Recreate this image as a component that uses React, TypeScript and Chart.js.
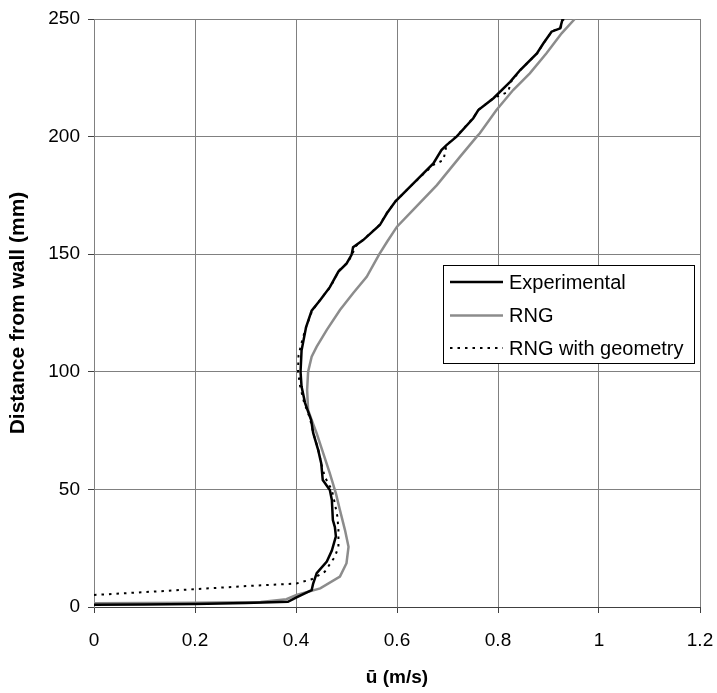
import React, { useEffect, useRef } from 'react';
import { Chart, registerables } from 'chart.js';

Chart.register(...registerables);

// ---- data (u in m/s, y = distance from wall in mm) ----
const expU = [0.0, 0.1, 0.2, 0.3, 0.384, 0.4, 0.431, 0.434, 0.441, 0.461, 0.471, 0.479, 0.477, 0.473, 0.471, 0.467, 0.453, 0.45, 0.444, 0.434, 0.43, 0.418, 0.411, 0.409, 0.411, 0.415, 0.42, 0.431, 0.448, 0.467, 0.484, 0.5, 0.51, 0.513, 0.533, 0.566, 0.58, 0.597, 0.632, 0.672, 0.688, 0.698, 0.718, 0.751, 0.761, 0.791, 0.824, 0.844, 0.877, 0.89, 0.906, 0.923, 0.928];
const expY = [1.0, 1.1, 1.3, 1.7, 2.2, 4.0, 7.2, 10, 14.4, 19.3, 24, 30, 34, 37, 45.5, 49.7, 54, 61, 66.7, 74, 79.5, 86.7, 93.7, 100, 109, 113.5, 119, 126, 130.5, 136, 142.6, 146, 149.7, 153, 156, 162.4, 167.4, 172.5, 180, 188.6, 194.3, 196.4, 200, 207.8, 211.3, 216.3, 223.3, 228.3, 235.4, 239.7, 244.6, 246, 250];

const rngU = [0.0, 0.2, 0.33, 0.381, 0.401, 0.448, 0.487, 0.5, 0.504, 0.497, 0.487, 0.479, 0.467, 0.454, 0.441, 0.431, 0.424, 0.422, 0.424, 0.431, 0.441, 0.461, 0.487, 0.513, 0.54, 0.565, 0.581, 0.6, 0.632, 0.679, 0.725, 0.758, 0.764, 0.797, 0.83, 0.863, 0.896, 0.926, 0.952];
const rngY = [1.6, 1.8, 2.1, 3.3, 5.1, 7.9, 12.9, 18.6, 25.6, 32.7, 41.2, 48.3, 56.8, 65.3, 73.8, 79.5, 83.7, 92.3, 100, 106.4, 110.7, 117.8, 126.3, 133.4, 140.4, 150, 155.5, 161.7, 168.8, 179.4, 191.5, 200, 201.4, 211.3, 219.8, 226.9, 235.4, 243.9, 250];

const geoU = [0.0, 0.17, 0.302, 0.401, 0.431, 0.457, 0.477, 0.484, 0.484, 0.482, 0.477, 0.471, 0.457, 0.45, 0.444, 0.434, 0.428, 0.416, 0.408, 0.404, 0.405, 0.413, 0.42, 0.432, 0.449, 0.468, 0.485, 0.502, 0.512, 0.516, 0.535, 0.566, 0.58, 0.597, 0.633, 0.672, 0.692, 0.698, 0.718, 0.751, 0.762, 0.792, 0.82, 0.826, 0.845, 0.878, 0.891, 0.907, 0.924, 0.93];
const geoY = [5.1, 7.2, 8.9, 10, 11.8, 15, 21.4, 25.6, 32.7, 38.4, 44, 49.7, 55.4, 61, 67, 74, 80, 87, 94, 100, 107, 114, 119, 126, 131, 136, 143, 146.5, 150, 153, 156.5, 162.6, 167.6, 172.5, 180.2, 188, 190, 196.4, 200.2, 208, 211.5, 216.5, 219, 223.4, 228.5, 235.5, 240, 244.8, 246.3, 250];

const seriesLabels = ['Experimental', 'RNG', 'RNG with geometry'];
const xTickLabels = ['0', '0.2', '0.4', '0.6', '0.8', '1', '1.2'];
const yTickLabels = ['0', '50', '100', '150', '200', '250'];
const xMin = 0, xMax = 1.2, xStep = 0.2;
const yMin = 0, yMax = 250, yStep = 50;
const xTitle = 'ū (m/s)';
const yTitle = 'Distance from wall (mm)';

const FONT = '"Liberation Sans", Arial, sans-serif';

const toPts = (us: number[], ys: number[]) => us.map((u, i) => ({ x: u, y: ys[i] }));

const legendPlugin = {
  id: 'boxLegend',
  afterDraw(chart: any) {
    const ctx = chart.ctx;
    const bx = 443, by = 265, bw = 251, bh = 98;
    ctx.save();
    ctx.fillStyle = '#ffffff';
    ctx.fillRect(bx, by, bw, bh);
    ctx.strokeStyle = '#000000';
    ctx.lineWidth = 1;
    ctx.strokeRect(bx + 0.5, by + 0.5, bw, bh);
    const rows = [282, 315.5, 348];
    chart.data.datasets.forEach((ds: any, i: number) => {
      const y = rows[i];
      ctx.beginPath();
      ctx.strokeStyle = ds.borderColor;
      ctx.lineWidth = ds.borderWidth;
      ctx.setLineDash(ds.borderDash || []);
      ctx.moveTo(450, y);
      ctx.lineTo(503, y);
      ctx.stroke();
      ctx.setLineDash([]);
      ctx.fillStyle = '#000';
      ctx.font = `20px ${FONT}`;
      ctx.textBaseline = 'middle';
      ctx.textAlign = 'left';
      ctx.fillText(ds.label, 509, y + 1);
    });
    ctx.restore();
  },
};

export default function App() {
  const ref = useRef<HTMLCanvasElement | null>(null);
  useEffect(() => {
    if (!ref.current) return;
    const chart = new Chart(ref.current, {
      type: 'scatter',
      data: {
        datasets: [
          {
            label: seriesLabels[0],
            data: toPts(expU, expY),
            showLine: true,
            borderColor: '#000000',
            borderWidth: 2.5,
            pointRadius: 0,
            tension: 0,
          },
          {
            label: seriesLabels[1],
            data: toPts(rngU, rngY),
            showLine: true,
            borderColor: '#8c8c8c',
            borderWidth: 2.5,
            pointRadius: 0,
            tension: 0,
          },
          {
            label: seriesLabels[2],
            data: toPts(geoU, geoY),
            showLine: true,
            borderColor: '#000000',
            borderWidth: 2,
            borderDash: [2.5, 5],
            pointRadius: 0,
            tension: 0,
          },
        ],
      } as any,
      options: {
        animation: false,
        responsive: false,
        devicePixelRatio: 1,
        layout: { padding: { top: 19, right: 17, left: 0, bottom: 0 } },
        plugins: { legend: { display: false }, tooltip: { enabled: false } },
        scales: {
          x: {
            type: 'linear',
            min: xMin,
            max: xMax,
            ticks: {
              stepSize: xStep,
              color: '#000',
              font: { family: FONT, size: 19 },
              padding: 16,
              maxRotation: 0,
              callback: (v: number) => xTickLabels[Math.round((v - xMin) / xStep)],
            },
            grid: { color: '#808080', lineWidth: 1, tickLength: 6, tickColor: '#404040' },
            border: { color: '#404040', width: 1 },
            title: {
              display: true,
              text: xTitle,
              color: '#000',
              font: { family: FONT, size: 19, weight: 'bold' },
              padding: { top: 0, bottom: 4 },
            },
            afterFit: (s: any) => { s.height = 86; s.paddingLeft = 0; s.paddingRight = 0; },
          },
          y: {
            type: 'linear',
            min: yMin,
            max: yMax,
            ticks: {
              stepSize: yStep,
              color: '#000',
              font: { family: FONT, size: 19 },
              padding: 8,
              callback: (v: number) => yTickLabels[Math.round((v - yMin) / yStep)],
            },
            grid: { color: '#808080', lineWidth: 1, tickLength: 6, tickColor: '#404040' },
            border: { color: '#808080', width: 1 },
            title: {
              display: true,
              text: yTitle,
              color: '#000',
              font: { family: FONT, size: 21, weight: 'bold' },
              padding: { top: 6, bottom: 0 },
            },
            afterFit: (s: any) => { s.width = 94; s.paddingTop = 0; s.paddingBottom = 0; },
          },
        },
      } as any,
      plugins: [legendPlugin],
    });
    return () => chart.destroy();
  }, []);
  return (
    <div style={{ position: 'fixed', left: 0, top: 0, width: 717, height: 693, background: '#fff' }}>
      <canvas ref={ref} width={717} height={693} style={{ width: 717, height: 693, display: 'block' }} />
    </div>
  );
}
